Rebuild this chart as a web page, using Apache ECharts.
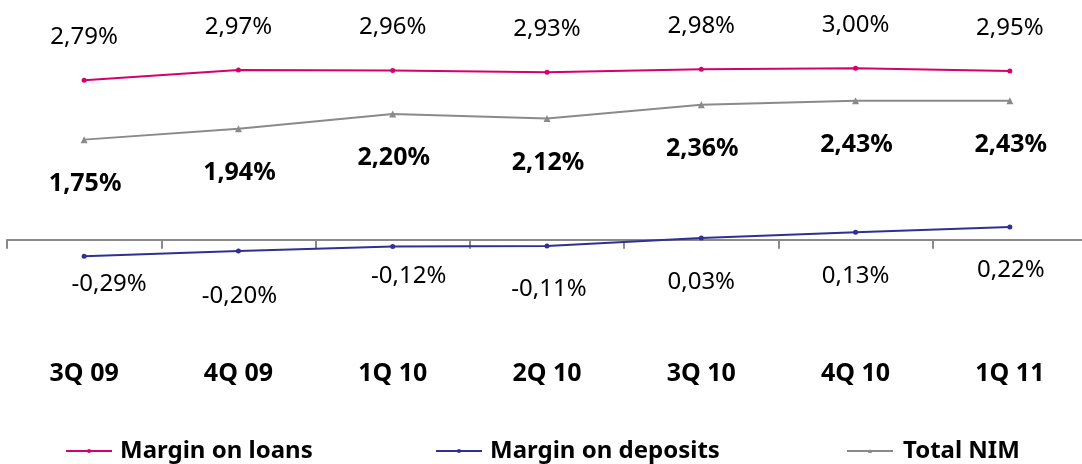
<!DOCTYPE html>
<html>
<head>
<meta charset="utf-8">
<script src="https://cdn.jsdelivr.net/npm/echarts@6/dist/echarts.min.js"></script>
<style>
  html, body { margin: 0; padding: 0; background: #ffffff; }
  #chart { width: 1082px; height: 464px; }
</style>
</head>
<body>
<div id="chart"></div>
<script>
// ---- data ----
const categories = ['3Q 09', '4Q 09', '1Q 10', '2Q 10', '3Q 10', '4Q 10', '1Q 11'];
const marginOnLoans = [2.79, 2.97, 2.96, 2.93, 2.98, 3.00, 2.95];
const marginOnDeposits = [-0.29, -0.20, -0.12, -0.11, 0.03, 0.13, 0.22];
const totalNIM = [1.75, 1.94, 2.20, 2.12, 2.36, 2.43, 2.43];
const seriesNames = ['Margin on loans', 'Margin on deposits', 'Total NIM'];

// ---- label placement (style only) ----
const depositLabelOffsets = [[25, 28], [1, 45], [16, 30], [2, 43], [0, 44], [0, 44], [1, 43]];

const fmt = v => v.toFixed(2).replace('.', ',') + '%';
const FONT = '"Noto Sans", "DejaVu Sans", sans-serif';

const chart = echarts.init(document.getElementById('chart'), null, { renderer: 'canvas' });

const legendBase = {
  top: 439,
  padding: 0,
  itemWidth: 46,
  itemHeight: 5,
  textStyle: { fontFamily: FONT, fontSize: 24, fontWeight: 'bold', color: '#000', padding: [0, 0, 0, 3] },
  selectedMode: false
};

chart.setOption({
  animation: false,
  backgroundColor: '#ffffff',
  grid: { left: 7, right: -5, top: 11, height: 343, containLabel: false, outerBoundsMode: 'none' },
  legend: [
    Object.assign({}, legendBase, { left: 65, data: [seriesNames[0]] }),
    Object.assign({}, legendBase, { left: 435, data: [seriesNames[1]] }),
    Object.assign({}, legendBase, { left: 846, data: [seriesNames[2]], textStyle: Object.assign({}, legendBase.textStyle, { padding: [0, 0, 0, 5] }) })
  ],
  xAxis: {
    type: 'category',
    data: categories,
    boundaryGap: true,
    axisLine: { onZero: true, lineStyle: { color: '#8a8a8a', width: 2 } },
    axisTick: { show: true, length: 9, interval: 0, lineStyle: { color: '#8a8a8a', width: 2 } },
    axisLabel: { margin: 7, fontFamily: FONT, fontSize: 25, fontWeight: 'bold', color: '#000', interval: 0 },
    splitLine: { show: false }
  },
  yAxis: {
    type: 'value',
    min: -2,
    max: 4,
    axisLine: { show: false },
    axisTick: { show: false },
    axisLabel: { show: false },
    splitLine: { show: false }
  },
  series: [
    {
      name: seriesNames[0],
      type: 'line',
      data: marginOnLoans,
      color: '#d4006e',
      symbol: 'circle',
      symbolSize: 5,
      lineStyle: { width: 2, color: '#d4006e' },
      itemStyle: { color: '#d4006e' },
      label: {
        show: true, position: 'inside', offset: [0, -43],
        formatter: p => fmt(p.value),
        fontFamily: FONT, fontSize: 24, color: '#000'
      },
      z: 3
    },
    {
      name: seriesNames[1],
      type: 'line',
      data: marginOnDeposits.map((v, i) => ({
        value: v,
        label: { offset: depositLabelOffsets[i] }
      })),
      color: '#303092',
      symbol: 'circle',
      symbolSize: 5,
      lineStyle: { width: 2, color: '#303092' },
      itemStyle: { color: '#303092' },
      label: {
        show: true, position: 'inside',
        formatter: p => fmt(p.value),
        fontFamily: FONT, fontSize: 24, color: '#000'
      },
      z: 3
    },
    {
      name: seriesNames[2],
      type: 'line',
      data: totalNIM,
      color: '#8a8a8a',
      symbol: 'triangle',
      symbolSize: 7,
      lineStyle: { width: 2, color: '#8a8a8a' },
      itemStyle: { color: '#8a8a8a' },
      label: {
        show: true, position: 'inside', offset: [1, 44],
        formatter: p => fmt(p.value),
        fontFamily: FONT, fontSize: 25, fontWeight: 'bold', color: '#000'
      },
      z: 2
    }
  ]
});
</script>
</body>
</html>
